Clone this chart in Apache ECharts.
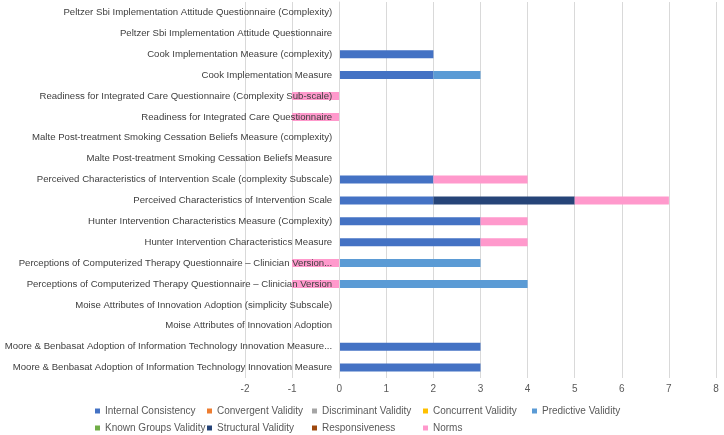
<!DOCTYPE html>
<html>
<head>
<meta charset="utf-8">
<script src="https://cdn.jsdelivr.net/npm/echarts@6/dist/echarts.min.js"></script>
<style>
html, body { margin: 0; padding: 0; background: #fff; }
#chart { width: 724px; height: 435px; }
</style>
</head>
<body>
<div id="chart"></div>
<script>
// measures, top to bottom
var measures = [
	'Peltzer Sbi Implementation Attitude Questionnaire (Complexity)',
	'Peltzer Sbi Implementation Attitude Questionnaire',
	'Cook Implementation Measure (complexity)',
	'Cook Implementation Measure',
	'Readiness for Integrated Care Questionnaire (Complexity Sub-scale)',
	'Readiness for Integrated Care Questionnaire',
	'Malte Post-treatment Smoking Cessation Beliefs Measure (complexity)',
	'Malte Post-treatment Smoking Cessation Beliefs Measure',
	'Perceived Characteristics of Intervention Scale (complexity Subscale)',
	'Perceived Characteristics of Intervention Scale',
	'Hunter Intervention Characteristics Measure (Complexity)',
	'Hunter Intervention Characteristics Measure',
	'Perceptions of Computerized Therapy Questionnaire – Clinician Version...',
	'Perceptions of Computerized Therapy Questionnaire – Clinician Version',
	'Moise Attributes of Innovation Adoption (simplicity Subscale)',
	'Moise Attributes of Innovation Adoption',
	'Moore & Benbasat Adoption of Information Technology Innovation Measure...',
	'Moore & Benbasat Adoption of Information Technology Innovation Measure'
];

var internalConsistency = [0, 0, 2, 2, 0, 0, 0, 0, 2, 2, 3, 3, 0, 0, 0, 0, 3, 3];
var convergentValidity  = [0, 0, 0, 0, 0, 0, 0, 0, 0, 0, 0, 0, 0, 0, 0, 0, 0, 0];
var discriminantValidity= [0, 0, 0, 0, 0, 0, 0, 0, 0, 0, 0, 0, 0, 0, 0, 0, 0, 0];
var concurrentValidity  = [0, 0, 0, 0, 0, 0, 0, 0, 0, 0, 0, 0, 0, 0, 0, 0, 0, 0];
var predictiveValidity  = [0, 0, 0, 1, 0, 0, 0, 0, 0, 0, 0, 0, 3, 4, 0, 0, 0, 0];
var knownGroupsValidity = [0, 0, 0, 0, 0, 0, 0, 0, 0, 0, 0, 0, 0, 0, 0, 0, 0, 0];
var structuralValidity  = [0, 0, 0, 0, 0, 0, 0, 0, 0, 3, 0, 0, 0, 0, 0, 0, 0, 0];
var responsiveness      = [0, 0, 0, 0, 0, 0, 0, 0, 0, 0, 0, 0, 0, 0, 0, 0, 0, 0];
var norms               = [0, 0, 0, 0, -1, -1, 0, 0, 2, 2, 1, 1, -1, -1, 0, 0, 0, 0];

var xTicks = [-2, -1, 0, 1, 2, 3, 4, 5, 6, 7, 8];

var seriesDefs = [
	['Internal Consistency', internalConsistency, '#4472C4'],
	['Convergent Validity', convergentValidity, '#ED7D31'],
	['Discriminant Validity', discriminantValidity, '#A5A5A5'],
	['Concurrent Validity', concurrentValidity, '#FFC000'],
	['Predictive Validity', predictiveValidity, '#5B9BD5'],
	['Known Groups Validity', knownGroupsValidity, '#70AD47'],
	['Structural Validity', structuralValidity, '#264478'],
	['Responsiveness', responsiveness, '#9E480E'],
	['Norms', norms, '#FF99CC']
];

// legend laid out as a 5-column table, 2 rows
var legendCols = [95, 207, 312, 423, 532];
var legendRows = [406, 423];

var font = '"Liberation Sans", Arial, sans-serif';

var gridLeft = 245, gridRight = 8;
var chartW = 724;
// shift the category axis (labels + line) from the left edge to x = 0
var unitPx = (chartW - gridLeft - gridRight) / (xTicks[xTicks.length - 1] - xTicks[0]);
var zeroOffset = -(0 - xTicks[0]) * unitPx;

var chart = echarts.init(document.getElementById('chart'));

var series = seriesDefs.map(function (d) {
	return {
		name: d[0],
		type: 'bar',
		stack: 'total',
		barWidth: 8,
		data: d[1],
		itemStyle: { color: d[2] }
	};
});

var legends = seriesDefs.map(function (d, i) {
	return {
		data: [d[0]],
		left: legendCols[i % 5],
		top: legendRows[Math.floor(i / 5)],
		itemWidth: 5, itemHeight: 5,
		icon: 'rect',
		padding: 0,
		textStyle: { fontFamily: font, fontSize: 10, color: '#595959' }
	};
});

var option = {
	animation: false,
	textStyle: { fontFamily: font },
	grid: { left: gridLeft, right: gridRight, top: 2, bottom: 57, outerBoundsMode: 'none', containLabel: false },
	legend: legends,
	xAxis: {
		type: 'value',
		min: xTicks[0],
		max: xTicks[xTicks.length - 1],
		interval: 1,
		axisLine: { show: false },
		axisTick: { show: false },
		axisLabel: { color: '#595959', fontSize: 10, fontFamily: font, margin: 6 },
		splitLine: { lineStyle: { color: '#D9D9D9', width: 1 } }
	},
	yAxis: {
		type: 'category',
		inverse: true,
		data: measures,
		offset: zeroOffset,
		z: 5,
		axisLine: { onZero: false, lineStyle: { color: '#D9D9D9' } },
		axisTick: { show: false },
		axisLabel: { color: '#404040', fontSize: 9.6, fontFamily: font, margin: 7 }
	},
	series: series
};

chart.setOption(option);
</script>
</body>
</html>
